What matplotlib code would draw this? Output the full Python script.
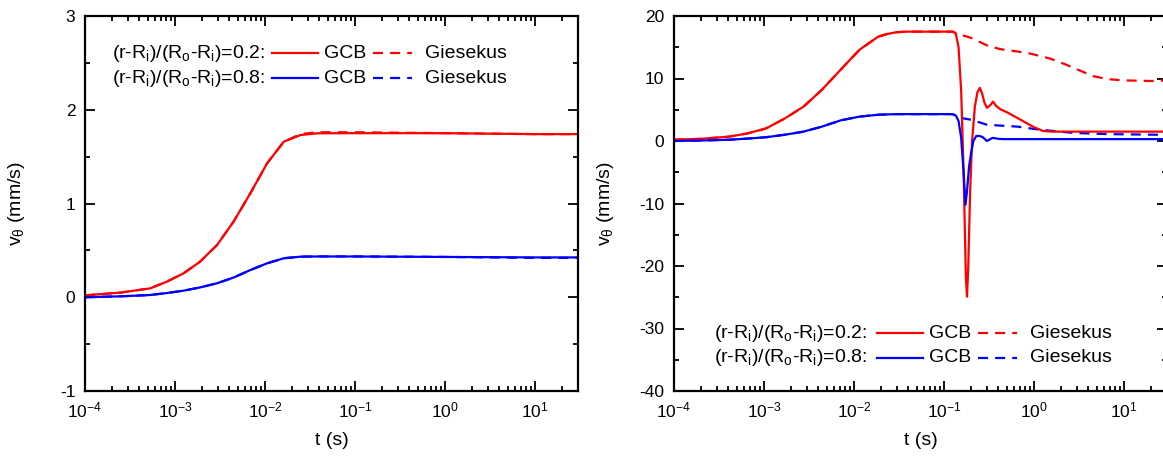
import matplotlib
matplotlib.use("Agg")
import matplotlib.pyplot as plt
from matplotlib.lines import Line2D
from matplotlib.ticker import MultipleLocator, LogLocator, NullFormatter

plt.rcParams.update({
    "font.family": ["Liberation Sans", "DejaVu Sans"],
    "mathtext.fontset": "custom",
    "mathtext.rm": "Liberation Sans",
    "mathtext.it": "Liberation Sans:italic",
    "mathtext.bf": "Liberation Sans:bold",
    "axes.unicode_minus": False,
})

# ---------------- data: left panel ----------------
t_left = [1e-4, 2.5e-4, 5.3e-4, 8.1e-4, 1.245e-3, 1.9e-3, 2.93e-3, 4.47e-3,
          6.87e-3, 1.055e-2, 1.62e-2, 2.48e-2, 3.8e-2, 0.1, 1.0, 10.0, 30.0]
red_gcb_left = [0.02, 0.05, 0.095, 0.166, 0.255, 0.38, 0.557, 0.806,
                1.109, 1.429, 1.66, 1.73, 1.749, 1.75, 1.75, 1.74, 1.74]
red_gie_left = [0.02, 0.05, 0.095, 0.166, 0.255, 0.38, 0.557, 0.806,
                1.109, 1.429, 1.66, 1.74, 1.76, 1.76, 1.75, 1.74, 1.74]
blue_gcb_left = [0.0, 0.01, 0.024, 0.045, 0.07, 0.105, 0.149, 0.21,
                 0.29, 0.362, 0.416, 0.433, 0.435, 0.435, 0.43, 0.425, 0.425]
blue_gie_left = [0.0, 0.01, 0.024, 0.045, 0.07, 0.105, 0.149, 0.21,
                 0.29, 0.362, 0.416, 0.433, 0.435, 0.435, 0.43, 0.42, 0.42]

# ---------------- data: right panel ----------------
t_ramp = [1e-4, 2e-4, 4.1e-4, 6.5e-4, 1.05e-3, 1.7e-3, 2.75e-3, 4.4e-3,
          7.1e-3, 1.15e-2, 1.86e-2, 2.3e-2, 2.95e-2, 3.8e-2, 6e-2, 0.125]
red_ramp = [0.2, 0.35, 0.7, 1.2, 2.0, 3.6, 5.5, 8.2,
            11.4, 14.6, 16.7, 17.1, 17.4, 17.5, 17.5, 17.5]
blue_ramp = [0.0, 0.08, 0.2, 0.38, 0.6, 1.0, 1.5, 2.3,
             3.3, 3.9, 4.2, 4.25, 4.3, 4.3, 4.3, 4.3]

t_red_gcb = [0.135, 0.145, 0.155, 0.165, 0.175, 0.18, 0.186, 0.195, 0.205,
             0.22, 0.235, 0.25, 0.265, 0.28, 0.30, 0.33, 0.35, 0.38, 0.42,
             0.5, 0.65, 0.97, 1.26, 1.6, 30.0]
red_gcb_tail = [17.2, 15.0, 8.0, -5.0, -22.0, -24.9, -20.0, -8.0, 0.0,
                5.5, 7.8, 8.5, 7.6, 6.2, 5.3, 5.8, 6.3, 5.6, 5.1,
                4.6, 3.7, 2.3, 1.6, 1.5, 1.5]

t_red_gie = [0.138, 0.2, 0.3, 0.42, 0.6, 0.9, 1.5, 2.2, 3.2, 4.5, 6.5, 10.0,
             20.0, 30.0]
red_gie_tail = [17.2, 16.5, 15.3, 14.7, 14.4, 14.0, 13.2, 12.3, 11.3, 10.4,
                9.9, 9.7, 9.6, 9.7]

t_blue_gcb = [0.135, 0.145, 0.155, 0.165, 0.173, 0.18, 0.19, 0.2, 0.212,
              0.228, 0.25, 0.27, 0.30, 0.33, 0.35, 0.4, 0.45, 30.0]
blue_gcb_tail = [4.1, 3.2, 0.5, -5.0, -10.2, -8.0, -4.0, -1.9, 0.0,
                 0.8, 0.8, 0.6, 0.0, 0.35, 0.5, 0.35, 0.3, 0.3]

t_blue_gie = [0.138, 0.2, 0.3, 0.65, 1.17, 2.7, 6.5, 25.0, 30.0]
blue_gie_tail = [3.8, 3.4, 2.6, 2.3, 1.8, 1.3, 1.1, 1.0, 1.0]

legend_rows = ["$\\mathregular{(r\\text{-}R_i)/(R_o\\text{-}R_i)\\text{=0.2:}}$",
               "$\\mathregular{(r\\text{-}R_i)/(R_o\\text{-}R_i)\\text{=0.8:}}$"]
model_names = ["GCB", "Giesekus"]

RED = "#ff0000"
BLUE = "#0000ff"
LW = 1.6
DASH = (4.5, 3.2)

W, H = 1163, 459
fig = plt.figure(figsize=(W / 100, H / 100), dpi=100)
ax1 = fig.add_axes([85 / W, 68 / H, 493 / W, 375 / H])
ax2 = fig.add_axes([674 / W, 68 / H, 493 / W, 375 / H])

# left panel
ax1.plot(t_left, red_gie_left, color=RED, lw=LW, dashes=DASH)
ax1.plot(t_left, blue_gie_left, color=BLUE, lw=LW, dashes=DASH)
ax1.plot(t_left, red_gcb_left, color=RED, lw=LW)
ax1.plot(t_left, blue_gcb_left, color=BLUE, lw=LW)

# right panel
ax2.plot(t_ramp + t_red_gie, red_ramp + red_gie_tail, color=RED, lw=LW, dashes=DASH)
ax2.plot(t_ramp + t_blue_gie, blue_ramp + blue_gie_tail, color=BLUE, lw=LW, dashes=DASH)
ax2.plot(t_ramp + t_red_gcb, red_ramp + red_gcb_tail, color=RED, lw=LW)
ax2.plot(t_ramp + t_blue_gcb, blue_ramp + blue_gcb_tail, color=BLUE, lw=LW)

for ax, ylim, major, minor in [(ax1, (-1, 3), 1, 0.5), (ax2, (-40, 20), 10, 5)]:
    ax.set_xscale("log")
    ax.set_xlim(1e-4, 30)
    ax.set_ylim(*ylim)
    ax.yaxis.set_major_locator(MultipleLocator(major))
    ax.yaxis.set_minor_locator(MultipleLocator(minor))
    ax.xaxis.set_major_locator(LogLocator(base=10, numticks=20))
    ax.xaxis.set_minor_locator(LogLocator(base=10, subs=range(2, 10), numticks=20))
    ax.xaxis.set_minor_formatter(NullFormatter())
    ax.tick_params(which="both", direction="in", top=True, right=True, width=1.3,
                   labelsize=12.5)
    ax.tick_params(which="major", length=7.5)
    ax.tick_params(which="minor", length=3.8)
    ax.tick_params(axis="x", which="major", pad=7)
    ax.tick_params(axis="y", which="major", pad=7)
    for s in ax.spines.values():
        s.set_linewidth(1.6)
    ax.set_xlabel("t (s)", fontsize=14)
    ax.set_ylabel("$\\mathregular{v_\\theta}$ (mm/s)", fontsize=14)
    ax.yaxis.set_label_coords(-0.118, 0.5)
    ax.xaxis.set_label_coords(0.5, -0.11)


def draw_legend(x_text, x_line, x_gcb, x_dash, x_gie, ys):
    for label, y, col in zip(legend_rows, ys, [RED, BLUE]):
        yf = 1 - y / H
        fig.text(x_text / W, yf, label, fontsize=14, ha="left", va="center")
        fig.add_artist(Line2D([x_line[0] / W, x_line[1] / W], [yf, yf],
                              transform=fig.transFigure, color=col, lw=LW))
        fig.text(x_gcb / W, yf, model_names[0], fontsize=14, ha="left", va="center")
        fig.add_artist(Line2D([x_dash[0] / W, x_dash[1] / W], [yf, yf],
                              transform=fig.transFigure, color=col, lw=LW,
                              dashes=DASH))
        fig.text(x_gie / W, yf, model_names[1], fontsize=14, ha="left", va="center")


draw_legend(112, (272, 318), 324, (373, 412), 425, [53, 78])
draw_legend(714, (877, 923), 929, (978, 1017), 1030, [333, 358])

fig.savefig("out.png", dpi=100)
